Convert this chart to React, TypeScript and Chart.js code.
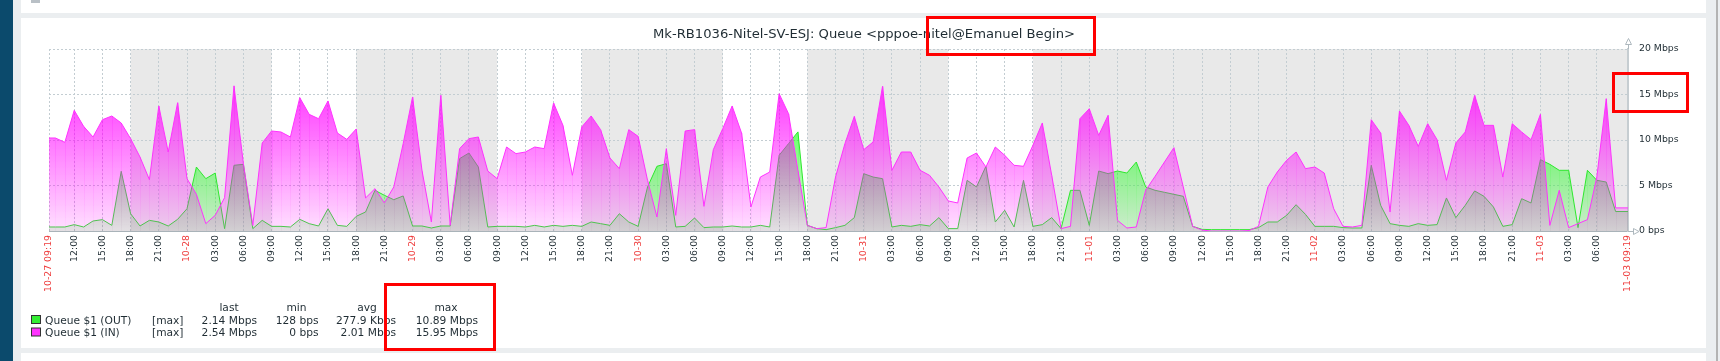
import { useEffect, useRef } from 'react';
import { Chart, registerables } from 'chart.js';

Chart.register(...registerables);

// ---------- data ----------
const TITLE = 'Mk-RB1036-Nitel-SV-ESJ: Queue <pppoe-nitel@Emanuel Begin>';
const RANGE_HOURS = 168; // 10-27 09:19 .. 11-03 09:19
const FIRST_HOUR_OFFSET = 41 / 60; // 10:00 is 41 minutes after 09:19
const START_LABEL = '10-27 09:19';
const END_LABEL = '11-03 09:19';
const DAY_LABELS = ['10-28', '10-29', '10-30', '10-31', '11-01', '11-02', '11-03'];

// hourly trend points: first = left edge, then 10:00 10-27 .. 08:00 11-03, last = right edge
const IN_MBPS = [
  10.22, 10.22, 9.74, 13.26, 11.5, 10.33, 12.23, 12.64, 11.87, 10.15,
  8.13, 5.64, 13.74, 8.68, 14.1, 5.75, 4.03, 0.81, 1.72, 3.66,
  15.95, 7.4, 0.62, 9.67, 10.99, 10.88, 10.33, 14.65, 12.82, 12.34,
  14.29, 10.77, 10.07, 11.21, 3.63, 4.65, 3.08, 4.84, 9.6, 14.73,
  6.67, 0.99, 14.91, 0.62, 9.05, 10.15, 10.33, 6.59, 5.75, 9.23,
  8.5, 8.68, 9.23, 9.05, 14.07, 11.61, 6.12, 11.43, 12.64, 11.14,
  8.02, 6.85, 11.14, 10.4, 5.57, 1.54, 9.05, 1.72, 10.99, 11.14,
  2.71, 8.94, 11.25, 13.74, 10.77, 2.64, 5.93, 6.48, 15.09, 12.89,
  6.67, 0.62, 0.26, 0.37, 5.93, 9.6, 12.6, 8.94, 9.78, 15.9,
  6.67, 8.68, 8.68, 6.67, 6.12, 4.84, 3.3, 3.08, 8.02, 8.57,
  7.03, 9.23, 8.32, 7.22, 7.11, 9.41, 11.87, 6.12, 0.26, 0.51,
  12.34, 13.44, 10.51, 12.71, 1.17, 0.33, 0.44, 4.47, 6.01, 7.58,
  9.16, 4.84, 0.51, 0.1, 0, 0, 0, 0, 0.05, 0.51,
  4.84, 6.48, 7.77, 8.68, 6.85, 7.03, 6.37, 2.45, 0.51, 0.44,
  0.62, 12.23, 10.77, 2.09, 13.19, 11.61, 9.3, 11.79, 10.04, 5.57,
  9.67, 10.88, 14.91, 11.61, 11.61, 5.93, 11.79, 10.88, 10.04, 12.82,
  0.62, 4.47, 0.37, 0.81, 1.25, 5.93, 14.54, 2.54, 2.54,
];

const OUT_MBPS = [
  0.44, 0.44, 0.44, 0.7, 0.44, 1.1, 1.25, 0.62, 6.56, 1.9,
  0.55, 1.17, 0.99, 0.55, 1.28, 2.45, 7.03, 5.75, 6.37, 0.26,
  7.22, 7.33, 0.26, 1.17, 0.51, 0.51, 0.44, 1.28, 0.81, 0.55,
  2.45, 0.62, 0.51, 1.61, 2.09, 4.47, 3.92, 3.44, 3.85, 0.55,
  0.55, 0.33, 0.55, 0.55, 7.95, 8.57, 7.03, 0.44, 0.51, 0.51,
  0.51, 0.44, 0.62, 0.44, 0.62, 0.51, 0.62, 0.51, 0.99, 0.81,
  0.62, 1.9, 0.99, 0.51, 4.84, 7.11, 7.4, 0.44, 0.51, 1.43,
  0.37, 0.44, 0.44, 0.55, 0.44, 0.44, 0.62, 0.44, 8.32, 9.6,
  10.89, 0.62, 0.26, 0.15, 0.37, 0.62, 1.47, 6.3, 5.93, 5.75,
  0.44, 0.62, 0.51, 0.7, 0.55, 1.47, 0.26, 0.26, 5.57, 4.84,
  7.11, 0.99, 2.27, 0.44, 5.57, 0.51, 0.7, 1.47, 0.26, 4.47,
  4.47, 0.62, 6.59, 6.3, 6.59, 6.37, 7.58, 4.84, 4.47, 4.25,
  4.03, 3.81, 0.51, 0.18, 0.15, 0.15, 0.15, 0.15, 0.15, 0.37,
  0.99, 0.99, 1.72, 2.89, 1.83, 0.51, 0.51, 0.51, 0.37, 0.33,
  0.33, 7.22, 2.82, 0.81, 0.62, 0.51, 0.81, 0.62, 0.7, 3.63,
  1.47, 2.82, 4.4, 3.81, 2.64, 0.51, 0.7, 3.55, 3.08, 7.84,
  7.33, 6.67, 6.67, 0.37, 6.67, 5.57, 5.38, 2.14, 2.14,
];

// non-working periods (hours since 10-27 09:19)
const NONWORK_FROM = [8.6833, 32.6833, 56.6833, 80.6833, 104.6833];
const NONWORK_TO = [23.6833, 47.6833, 71.6833, 95.6833, 168];

const Y_TICK_VALUES = [0, 5, 10, 15, 20];
const Y_TICK_LABELS = ['0 bps', '5 Mbps', '10 Mbps', '15 Mbps', '20 Mbps'];

const LEGEND_NAMES = ['Queue $1 (OUT)', 'Queue $1 (IN)'];
const LEGEND_FUNC = ['[max]', '[max]'];
const LEGEND_LAST = ['2.14 Mbps', '2.54 Mbps'];
const LEGEND_MIN = ['128 bps', '0 bps'];
const LEGEND_AVG = ['277.9 Kbps', '2.01 Mbps'];
const LEGEND_MAX = ['10.89 Mbps', '15.95 Mbps'];

// ---------- derived ----------
const TIMES: number[] = [0];
for (let k = 0; k < IN_MBPS.length - 2; k++) TIMES.push(FIRST_HOUR_OFFSET + k);
TIMES.push(RANGE_HOURS);

const X_TICK_VALUES: number[] = [0];
const X_TICK_LABELS: string[] = [START_LABEL];
const X_TICK_RED: boolean[] = [true];
for (let n = 0; n < 55; n++) {
  const clock = 12 + 3 * n;
  const hour = clock % 24;
  X_TICK_VALUES.push(FIRST_HOUR_OFFSET + 2 + 3 * n);
  if (hour === 0) {
    X_TICK_LABELS.push(DAY_LABELS[clock / 24 - 1]);
    X_TICK_RED.push(true);
  } else {
    X_TICK_LABELS.push((hour < 10 ? '0' : '') + hour + ':00');
    X_TICK_RED.push(false);
  }
}
X_TICK_VALUES.push(RANGE_HOURS);
X_TICK_LABELS.push(END_LABEL);
X_TICK_RED.push(true);

const FONT = '"DejaVu Sans"';
const TEXT = '#1f2c33';
const RED = '#ee3b3b';
const GRID = '#c3cdd2';

function gradient(chart: any, rgb: string) {
  const a = chart.chartArea;
  if (!a) return `rgba(${rgb},0.5)`;
  const g = chart.ctx.createLinearGradient(0, a.top, 0, a.bottom);
  g.addColorStop(0, `rgba(${rgb},0.95)`);
  g.addColorStop(1, `rgba(${rgb},0.12)`);
  return g;
}

const decorPlugin = {
  id: 'decor',
  beforeDraw(chart: any) {
    const { ctx, chartArea: a, scales } = chart;
    const x = scales.x;
    ctx.save();
    ctx.fillStyle = '#e9e9e9';
    for (let i = 0; i < NONWORK_FROM.length; i++) {
      const x0 = x.getPixelForValue(NONWORK_FROM[i]);
      const x1 = x.getPixelForValue(NONWORK_TO[i]);
      ctx.fillRect(x0, a.top, x1 - x0, a.bottom - a.top);
    }
    ctx.restore();
  },
  afterDatasetDraw(chart: any, args: any) {
    const { ctx, chartArea: a } = chart;
    const pts = args.meta.data;
    const rgb = args.index === 0 ? '255,0,255' : '0,255,0';
    ctx.save();
    ctx.beginPath();
    ctx.rect(a.left, a.top, a.right - a.left, a.bottom - a.top);
    ctx.clip();
    ctx.globalAlpha = 0.25;
    ctx.strokeStyle = gradient(chart, rgb);
    ctx.lineWidth = 1;
    for (let i = 1; i < pts.length - 1; i++) {
      const px = Math.round(pts[i].x) + 0.5;
      ctx.beginPath();
      ctx.moveTo(px, pts[i].y);
      ctx.lineTo(px, a.bottom);
      ctx.stroke();
    }
    ctx.restore();
  },
  afterDraw(chart: any) {
    const { ctx, chartArea: a } = chart;
    ctx.save();
    // axis arrows
    ctx.strokeStyle = '#aeb8be';
    ctx.fillStyle = '#ffffff';
    ctx.lineWidth = 1;
    ctx.beginPath();
    ctx.moveTo(a.right + 0.5, a.top);
    ctx.lineTo(a.right + 0.5, a.top - 4);
    ctx.stroke();
    ctx.beginPath();
    ctx.moveTo(a.right - 2.5, a.top - 4.5);
    ctx.lineTo(a.right + 3.5, a.top - 4.5);
    ctx.lineTo(a.right + 0.5, a.top - 10.5);
    ctx.closePath();
    ctx.fill();
    ctx.stroke();
    ctx.beginPath();
    ctx.moveTo(a.right, a.bottom + 0.5);
    ctx.lineTo(a.right + 5, a.bottom + 0.5);
    ctx.stroke();
    ctx.beginPath();
    ctx.moveTo(a.right + 5.5, a.bottom - 2.5);
    ctx.lineTo(a.right + 5.5, a.bottom + 3.5);
    ctx.lineTo(a.right + 11, a.bottom + 0.5);
    ctx.closePath();
    ctx.fill();
    ctx.stroke();

    // title
    ctx.fillStyle = TEXT;
    ctx.font = `13.15px ${FONT}`;
    ctx.textAlign = 'center';
    ctx.textBaseline = 'alphabetic';
    ctx.fillText(TITLE, 864, 38);

    // legend
    ctx.font = `10.67px ${FONT}`;
    const headBase = 311;
    const rowBase = [323.5, 336];
    ctx.textAlign = 'center';
    ctx.fillText('last', 229, headBase);
    ctx.fillText('min', 296.5, headBase);
    ctx.fillText('avg', 367, headBase);
    ctx.fillText('max', 446, headBase);
    const colors = ['#33ee33', '#ff33ff'];
    for (let r = 0; r < 2; r++) {
      const yb = rowBase[r];
      ctx.fillStyle = colors[r];
      ctx.fillRect(31.5, yb - 8, 9, 8);
      ctx.strokeStyle = '#333333';
      ctx.strokeRect(31.5, yb - 8, 9, 8);
      ctx.fillStyle = TEXT;
      ctx.textAlign = 'left';
      ctx.fillText(LEGEND_NAMES[r], 45, yb);
      ctx.fillText(LEGEND_FUNC[r], 152, yb);
      ctx.textAlign = 'right';
      ctx.fillText(LEGEND_LAST[r], 257, yb);
      ctx.fillText(LEGEND_MIN[r], 318.5, yb);
      ctx.fillText(LEGEND_AVG[r], 396, yb);
      ctx.fillText(LEGEND_MAX[r], 478, yb);
    }
    ctx.restore();
  },
};

export default function App() {
  const ref = useRef<HTMLCanvasElement | null>(null);

  useEffect(() => {
    document.body.style.margin = '0';
    const canvas = ref.current;
    if (!canvas) return;
    const chart = new Chart(canvas, {
      type: 'line',
      data: {
        datasets: [
          {
            label: 'Queue $1 (IN)',
            data: IN_MBPS.map((v, i) => ({ x: TIMES[i], y: v })),
            borderColor: '#ff33ff',
            borderWidth: 1,
            backgroundColor: (c: any) => gradient(c.chart, '255,0,255'),
            fill: 'origin',
            pointRadius: 0,
            tension: 0,
          },
          {
            label: 'Queue $1 (OUT)',
            data: OUT_MBPS.map((v, i) => ({ x: TIMES[i], y: v })),
            borderColor: '#2ee82e',
            borderWidth: 1,
            backgroundColor: (c: any) => gradient(c.chart, '0,255,0'),
            fill: 'origin',
            pointRadius: 0,
            tension: 0,
          },
        ],
      },
      options: {
        animation: false,
        responsive: false,
        devicePixelRatio: 1,
        events: [],
        layout: { padding: { left: 49, top: 49, right: 32, bottom: 60 } },
        plugins: { legend: { display: false }, title: { display: false }, tooltip: { enabled: false } },
        scales: {
          x: {
            type: 'linear',
            min: 0,
            max: RANGE_HOURS,
            afterBuildTicks: (s: any) => {
              s.ticks = X_TICK_VALUES.map((v) => ({ value: v }));
            },
            afterFit: (s: any) => {
              s.height = 70;
            },
            ticks: {
              autoSkip: false,
              minRotation: 90,
              maxRotation: 90,
              padding: 4,
              font: { family: FONT, size: 9.33 },
              color: (c: any) => (X_TICK_RED[c.index] ? RED : TEXT),
              callback: (_v: any, i: number) => X_TICK_LABELS[i],
            },
            grid: { color: GRID, lineWidth: 1, drawTicks: false },
            border: { color: '#a9b3b9', width: 1, dash: [2, 2] },
          },
          y: {
            type: 'linear',
            position: 'right',
            min: 0,
            max: 20,
            afterBuildTicks: (s: any) => {
              s.ticks = Y_TICK_VALUES.map((v) => ({ value: v }));
            },
            afterFit: (s: any) => {
              s.width = 60;
            },
            ticks: {
              padding: 11,
              font: { family: FONT, size: 9.33 },
              color: TEXT,
              callback: (_v: any, i: number) => Y_TICK_LABELS[i],
            },
            grid: { color: GRID, lineWidth: 1, drawTicks: false },
            border: { color: '#c6cdd1', width: 2, dash: [2, 2] },
          },
        },
      },
      plugins: [decorPlugin],
    });
    return () => chart.destroy();
  }, []);

  const box = (left: number, top: number, width: number, height: number) => (
    <div
      style={{
        position: 'absolute',
        left,
        top,
        width,
        height,
        border: '3px solid #ff0000',
        boxSizing: 'border-box',
        zIndex: 5,
      }}
    />
  );

  return (
    <div style={{ position: 'relative', width: 1720, height: 361, overflow: 'hidden', background: '#ebeef0' }}>
      <div style={{ position: 'absolute', left: 0, top: 0, width: 13, height: 361, background: '#0b4a6c' }} />
      <div style={{ position: 'absolute', left: 21, top: 0, width: 1685, height: 13, background: '#ffffff' }} />
      <div style={{ position: 'absolute', left: 31, top: 0, width: 9, height: 3, background: '#b9c0c6' }} />
      <div style={{ position: 'absolute', left: 21, top: 18, width: 1685, height: 330, background: '#ffffff' }} />
      <div style={{ position: 'absolute', left: 21, top: 353, width: 1685, height: 8, background: '#ffffff' }} />
      <div style={{ position: 'absolute', left: 1716, top: 0, width: 2, height: 361, background: '#b3b3b3' }} />
      <canvas
        ref={ref}
        width={1720}
        height={361}
        style={{ position: 'absolute', left: 0, top: 0, width: 1720, height: 361 }}
      />
      {box(926, 16, 170, 40)}
      {box(1612, 72, 77, 41)}
      {box(384, 283, 112, 68)}
    </div>
  );
}
